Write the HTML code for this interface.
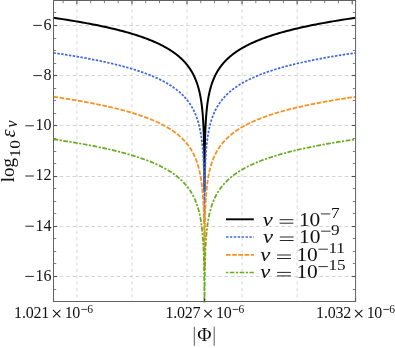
<!DOCTYPE html>
<html><head><meta charset="utf-8"><title>plot</title>
<style>
html,body{margin:0;padding:0;background:#ffffff;}
body{width:395px;height:348px;overflow:hidden;font-family:"Liberation Serif",serif;}
svg{display:block;position:absolute;left:0;top:0;will-change:transform;}
svg text{font-family:"Liberation Serif",serif;}
</style></head><body>
<svg width="395" height="348" viewBox="0 0 395 348">
<rect width="395" height="348" fill="#ffffff"/>
<g stroke="#d6d6d6" stroke-width="1" stroke-dasharray="3.2 3.13" stroke-dashoffset="-2" fill="none"><line x1="76.90" y1="1" x2="76.90" y2="301"/><line x1="131.96" y1="1" x2="131.96" y2="301"/><line x1="187.02" y1="1" x2="187.02" y2="301"/><line x1="242.08" y1="1" x2="242.08" y2="301"/><line x1="297.14" y1="1" x2="297.14" y2="301"/></g>
<g stroke="#d2d2d2" stroke-width="1" stroke-dasharray="3.5 2.83" fill="none"><line x1="53.5" y1="25.5" x2="355" y2="25.5"/><line x1="53.5" y1="75.5" x2="355" y2="75.5"/><line x1="53.5" y1="125.5" x2="355" y2="125.5"/><line x1="53.5" y1="176.5" x2="355" y2="176.5"/><line x1="53.5" y1="226.5" x2="355" y2="226.5"/><line x1="53.5" y1="276.5" x2="355" y2="276.5"/></g>
<g stroke="#707070" stroke-width="0.9" fill="none"><line x1="53.5" y1="12.50" x2="56.2" y2="12.50"/><line x1="355.5" y1="12.50" x2="352.8" y2="12.50"/><line x1="53.5" y1="38.50" x2="56.2" y2="38.50"/><line x1="355.5" y1="38.50" x2="352.8" y2="38.50"/><line x1="53.5" y1="50.50" x2="56.2" y2="50.50"/><line x1="355.5" y1="50.50" x2="352.8" y2="50.50"/><line x1="53.5" y1="63.50" x2="56.2" y2="63.50"/><line x1="355.5" y1="63.50" x2="352.8" y2="63.50"/><line x1="53.5" y1="88.50" x2="56.2" y2="88.50"/><line x1="355.5" y1="88.50" x2="352.8" y2="88.50"/><line x1="53.5" y1="100.50" x2="56.2" y2="100.50"/><line x1="355.5" y1="100.50" x2="352.8" y2="100.50"/><line x1="53.5" y1="113.50" x2="56.2" y2="113.50"/><line x1="355.5" y1="113.50" x2="352.8" y2="113.50"/><line x1="53.5" y1="138.50" x2="56.2" y2="138.50"/><line x1="355.5" y1="138.50" x2="352.8" y2="138.50"/><line x1="53.5" y1="151.50" x2="56.2" y2="151.50"/><line x1="355.5" y1="151.50" x2="352.8" y2="151.50"/><line x1="53.5" y1="163.50" x2="56.2" y2="163.50"/><line x1="355.5" y1="163.50" x2="352.8" y2="163.50"/><line x1="53.5" y1="188.50" x2="56.2" y2="188.50"/><line x1="355.5" y1="188.50" x2="352.8" y2="188.50"/><line x1="53.5" y1="201.50" x2="56.2" y2="201.50"/><line x1="355.5" y1="201.50" x2="352.8" y2="201.50"/><line x1="53.5" y1="213.50" x2="56.2" y2="213.50"/><line x1="355.5" y1="213.50" x2="352.8" y2="213.50"/><line x1="53.5" y1="238.50" x2="56.2" y2="238.50"/><line x1="355.5" y1="238.50" x2="352.8" y2="238.50"/><line x1="53.5" y1="251.50" x2="56.2" y2="251.50"/><line x1="355.5" y1="251.50" x2="352.8" y2="251.50"/><line x1="53.5" y1="263.50" x2="56.2" y2="263.50"/><line x1="355.5" y1="263.50" x2="352.8" y2="263.50"/><line x1="53.5" y1="289.50" x2="56.2" y2="289.50"/><line x1="355.5" y1="289.50" x2="352.8" y2="289.50"/><line x1="63.14" y1="0.5" x2="63.14" y2="3.2"/><line x1="90.67" y1="0.5" x2="90.67" y2="3.2"/><line x1="104.43" y1="0.5" x2="104.43" y2="3.2"/><line x1="118.20" y1="0.5" x2="118.20" y2="3.2"/><line x1="145.73" y1="0.5" x2="145.73" y2="3.2"/><line x1="159.49" y1="0.5" x2="159.49" y2="3.2"/><line x1="173.25" y1="0.5" x2="173.25" y2="3.2"/><line x1="200.79" y1="0.5" x2="200.79" y2="3.2"/><line x1="214.55" y1="0.5" x2="214.55" y2="3.2"/><line x1="228.32" y1="0.5" x2="228.32" y2="3.2"/><line x1="255.84" y1="0.5" x2="255.84" y2="3.2"/><line x1="269.61" y1="0.5" x2="269.61" y2="3.2"/><line x1="283.38" y1="0.5" x2="283.38" y2="3.2"/><line x1="310.90" y1="0.5" x2="310.90" y2="3.2"/><line x1="324.67" y1="0.5" x2="324.67" y2="3.2"/><line x1="338.44" y1="0.5" x2="338.44" y2="3.2"/></g>
<g stroke="#505050" stroke-width="1.1" fill="none"><line x1="53.5" y1="25.50" x2="57.2" y2="25.50"/><line x1="355.5" y1="25.50" x2="351.8" y2="25.50"/><line x1="53.5" y1="75.50" x2="57.2" y2="75.50"/><line x1="355.5" y1="75.50" x2="351.8" y2="75.50"/><line x1="53.5" y1="125.50" x2="57.2" y2="125.50"/><line x1="355.5" y1="125.50" x2="351.8" y2="125.50"/><line x1="53.5" y1="176.50" x2="57.2" y2="176.50"/><line x1="355.5" y1="176.50" x2="351.8" y2="176.50"/><line x1="53.5" y1="226.50" x2="57.2" y2="226.50"/><line x1="355.5" y1="226.50" x2="351.8" y2="226.50"/><line x1="53.5" y1="276.50" x2="57.2" y2="276.50"/><line x1="355.5" y1="276.50" x2="351.8" y2="276.50"/><line x1="76.90" y1="0.5" x2="76.90" y2="4.2"/><line x1="131.96" y1="0.5" x2="131.96" y2="4.2"/><line x1="187.02" y1="0.5" x2="187.02" y2="4.2"/><line x1="242.08" y1="0.5" x2="242.08" y2="4.2"/><line x1="297.14" y1="0.5" x2="297.14" y2="4.2"/><line x1="352.20" y1="0.5" x2="352.20" y2="4.2"/></g>
<defs><clipPath id="c"><rect x="53.5" y="0" width="302" height="302.6"/></clipPath></defs>
<g clip-path="url(#c)" fill="none" stroke-linejoin="round">
<path d="M53.50,17.80 L58.03,18.46 L62.42,19.13 L66.69,19.79 L70.82,20.46 L74.83,21.12 L78.72,21.78 L82.49,22.45 L86.15,23.11 L89.71,23.78 L93.15,24.44 L96.49,25.10 L99.73,25.77 L102.87,26.43 L105.92,27.10 L108.88,27.76 L111.75,28.42 L114.53,29.09 L117.23,29.75 L119.85,30.42 L122.39,31.08 L124.85,31.75 L127.24,32.41 L129.56,33.07 L131.81,33.74 L133.99,34.40 L136.10,35.07 L138.15,35.73 L140.14,36.39 L142.08,37.06 L143.95,37.72 L145.76,38.39 L147.53,39.05 L149.24,39.71 L150.89,40.38 L152.50,41.04 L154.06,41.71 L155.57,42.37 L157.04,43.03 L158.47,43.70 L159.85,44.36 L161.19,45.03 L162.49,45.69 L163.75,46.35 L164.97,47.02 L166.16,47.68 L167.31,48.35 L168.42,49.01 L169.50,49.67 L170.55,50.34 L171.57,51.00 L172.56,51.67 L173.52,52.33 L174.45,53.00 L175.35,53.66 L176.22,54.32 L177.07,54.99 L177.89,55.65 L178.69,56.32 L179.47,56.98 L180.22,57.64 L180.95,58.31 L181.65,58.97 L182.34,59.64 L183.00,60.30 L183.65,60.96 L184.27,61.63 L184.88,62.29 L185.47,62.96 L186.04,63.62 L186.59,64.28 L187.13,64.95 L187.65,65.61 L188.16,66.28 L188.65,66.94 L189.12,67.60 L189.58,68.27 L190.03,68.93 L190.47,69.60 L190.89,70.26 L191.30,70.92 L191.69,71.59 L192.08,72.25 L192.45,72.92 L192.81,73.58 L193.16,74.25 L193.50,74.91 L193.83,75.57 L194.15,76.24 L194.46,76.90 L194.76,77.57 L195.05,78.23 L195.34,78.89 L195.61,79.56 L195.88,80.22 L196.14,80.89 L196.39,81.55 L196.63,82.21 L196.87,82.88 L197.10,83.54 L197.32,84.21 L197.53,84.87 L197.74,85.53 L197.95,86.20 L198.14,86.86 L198.33,87.53 L198.52,88.19 L198.70,88.85 L198.87,89.52 L199.04,90.18 L199.20,90.85 L199.36,91.51 L199.52,92.17 L199.67,92.84 L199.81,93.50 L199.95,94.17 L200.09,94.83 L200.22,95.49 L200.35,96.16 L200.47,96.82 L200.60,97.49 L200.71,98.15 L200.83,98.82 L200.94,99.48 L201.04,100.14 L201.15,100.81 L201.25,101.47 L201.35,102.14 L201.44,102.80 L201.53,103.46 L201.62,104.13 L201.71,104.79 L201.79,105.46 L201.87,106.12 L201.95,106.78 L202.03,107.45 L202.10,108.11 L202.17,108.78 L202.24,109.44 L202.31,110.10 L202.38,110.77 L202.44,111.43 L202.50,112.10 L202.56,112.76 L202.62,113.42 L202.68,114.09 L202.73,114.75 L202.78,115.42 L202.84,116.08 L202.89,116.74 L202.93,117.41 L202.98,118.07 L203.03,118.74 L203.07,119.40 L203.11,120.07 L203.16,120.73 L203.20,121.39 L203.23,122.06 L203.27,122.72 L203.31,123.39 L203.35,124.05 L203.38,124.71 L203.41,125.38 L203.45,126.04 L203.48,126.71 L203.51,127.37 L203.54,128.03 L203.57,128.70 L203.60,129.36 L203.62,130.03 L203.65,130.69 L203.67,131.35 L203.70,132.02 L203.72,132.68 L203.75,133.35 L203.77,134.01 L203.79,134.67 L203.81,135.34 L203.83,136.00 L203.85,136.67 L203.87,137.33 L203.89,137.99 L203.91,138.66 L203.93,139.32 L203.94,139.99 L203.96,140.65 L203.98,141.31 L203.99,141.98 L204.01,142.64 L204.02,143.31 L204.04,143.97 L204.05,144.64 L204.06,145.30 L204.08,145.96 L204.09,146.63 L204.10,147.29 L204.11,147.96 L204.13,148.62 L204.14,149.28 L204.15,149.95 L204.16,150.61 L204.17,151.28 L204.18,151.94 L204.19,152.60 L204.20,153.27 L204.21,153.93 L204.22,154.60 L204.22,155.26 L204.23,155.92 L204.24,156.59 L204.25,157.25 L204.26,157.92 L204.26,158.58 L204.27,159.24 L204.28,159.91 L204.28,160.57 L204.29,161.24 L204.30,161.90 L204.30,162.56 L204.31,163.23 L204.31,163.89 L204.32,164.56 L204.33,165.22 L204.33,165.89 L204.34,166.55 L204.34,167.21 L204.35,167.88 L204.35,168.54 L204.35,169.21 L204.36,169.87 L204.36,170.53 L204.37,171.20 L204.37,171.86 L204.38,172.53 L204.38,173.19 L204.38,173.85 L204.39,174.52 L204.39,175.18 L204.39,175.85 L204.40,176.51 L204.40,177.17 L204.40,177.84 L204.40,178.50 L204.41,179.17 L204.41,179.83 L204.41,180.49 L204.42,181.16 L204.42,181.82 L204.42,182.49 L204.42,183.15 L204.43,183.81 L204.43,184.48 L204.43,185.14 L204.43,185.81 L204.43,186.47 L204.44,187.14 L204.44,187.80 L204.44,188.46 L204.44,189.13 L204.44,189.79 L204.45,190.46 L204.45,191.00 L204.55,191.00 L204.55,190.46 L204.56,189.79 L204.56,189.13 L204.56,188.46 L204.56,187.80 L204.56,187.14 L204.57,186.47 L204.57,185.81 L204.57,185.14 L204.57,184.48 L204.57,183.81 L204.58,183.15 L204.58,182.49 L204.58,181.82 L204.58,181.16 L204.59,180.49 L204.59,179.83 L204.59,179.17 L204.60,178.50 L204.60,177.84 L204.60,177.17 L204.60,176.51 L204.61,175.85 L204.61,175.18 L204.61,174.52 L204.62,173.85 L204.62,173.19 L204.62,172.53 L204.63,171.86 L204.63,171.20 L204.64,170.53 L204.64,169.87 L204.65,169.21 L204.65,168.54 L204.65,167.88 L204.66,167.21 L204.66,166.55 L204.67,165.89 L204.67,165.22 L204.68,164.56 L204.69,163.89 L204.69,163.23 L204.70,162.56 L204.70,161.90 L204.71,161.24 L204.72,160.57 L204.72,159.91 L204.73,159.24 L204.74,158.58 L204.74,157.92 L204.75,157.25 L204.76,156.59 L204.77,155.92 L204.78,155.26 L204.78,154.60 L204.79,153.93 L204.80,153.27 L204.81,152.60 L204.82,151.94 L204.83,151.28 L204.84,150.61 L204.85,149.95 L204.86,149.28 L204.87,148.62 L204.89,147.96 L204.90,147.29 L204.91,146.63 L204.92,145.96 L204.94,145.30 L204.95,144.64 L204.96,143.97 L204.98,143.31 L204.99,142.64 L205.01,141.98 L205.02,141.31 L205.04,140.65 L205.06,139.99 L205.07,139.32 L205.09,138.66 L205.11,137.99 L205.13,137.33 L205.15,136.67 L205.17,136.00 L205.19,135.34 L205.21,134.67 L205.23,134.01 L205.25,133.35 L205.28,132.68 L205.30,132.02 L205.33,131.35 L205.35,130.69 L205.38,130.03 L205.40,129.36 L205.43,128.70 L205.46,128.03 L205.49,127.37 L205.52,126.71 L205.55,126.04 L205.59,125.38 L205.62,124.71 L205.65,124.05 L205.69,123.39 L205.73,122.72 L205.77,122.06 L205.80,121.39 L205.84,120.73 L205.89,120.07 L205.93,119.40 L205.97,118.74 L206.02,118.07 L206.07,117.41 L206.11,116.74 L206.16,116.08 L206.22,115.42 L206.27,114.75 L206.32,114.09 L206.38,113.42 L206.44,112.76 L206.50,112.10 L206.56,111.43 L206.62,110.77 L206.69,110.10 L206.76,109.44 L206.83,108.78 L206.90,108.11 L206.97,107.45 L207.05,106.78 L207.13,106.12 L207.21,105.46 L207.29,104.79 L207.38,104.13 L207.47,103.46 L207.56,102.80 L207.65,102.14 L207.75,101.47 L207.85,100.81 L207.96,100.14 L208.06,99.48 L208.17,98.82 L208.29,98.15 L208.40,97.49 L208.53,96.82 L208.65,96.16 L208.78,95.49 L208.91,94.83 L209.05,94.17 L209.19,93.50 L209.33,92.84 L209.48,92.17 L209.64,91.51 L209.80,90.85 L209.96,90.18 L210.13,89.52 L210.30,88.85 L210.48,88.19 L210.67,87.53 L210.86,86.86 L211.05,86.20 L211.26,85.53 L211.47,84.87 L211.68,84.21 L211.90,83.54 L212.13,82.88 L212.37,82.21 L212.61,81.55 L212.86,80.89 L213.12,80.22 L213.39,79.56 L213.66,78.89 L213.95,78.23 L214.24,77.57 L214.54,76.90 L214.85,76.24 L215.17,75.57 L215.50,74.91 L215.84,74.25 L216.19,73.58 L216.55,72.92 L216.92,72.25 L217.31,71.59 L217.70,70.92 L218.11,70.26 L218.53,69.60 L218.97,68.93 L219.42,68.27 L219.88,67.60 L220.35,66.94 L220.84,66.28 L221.35,65.61 L221.87,64.95 L222.41,64.28 L222.96,63.62 L223.53,62.96 L224.12,62.29 L224.73,61.63 L225.35,60.96 L226.00,60.30 L226.66,59.64 L227.35,58.97 L228.05,58.31 L228.78,57.64 L229.53,56.98 L230.31,56.32 L231.11,55.65 L231.93,54.99 L232.78,54.32 L233.65,53.66 L234.55,53.00 L235.48,52.33 L236.44,51.67 L237.43,51.00 L238.45,50.34 L239.50,49.67 L240.58,49.01 L241.69,48.35 L242.84,47.68 L244.03,47.02 L245.25,46.35 L246.51,45.69 L247.81,45.03 L249.15,44.36 L250.53,43.70 L251.96,43.03 L253.43,42.37 L254.94,41.71 L256.50,41.04 L258.11,40.38 L259.76,39.71 L261.47,39.05 L263.24,38.39 L265.05,37.72 L266.92,37.06 L268.86,36.39 L270.85,35.73 L272.90,35.07 L275.01,34.40 L277.19,33.74 L279.44,33.07 L281.76,32.41 L284.15,31.75 L286.61,31.08 L289.15,30.42 L291.77,29.75 L294.47,29.09 L297.25,28.42 L300.12,27.76 L303.08,27.10 L306.13,26.43 L309.27,25.77 L312.51,25.10 L315.85,24.44 L319.29,23.78 L322.85,23.11 L326.51,22.45 L330.28,21.78 L334.17,21.12 L338.18,20.46 L342.31,19.79 L346.58,19.13 L350.97,18.46 L355.50,17.80 L355.50,17.80" stroke="#000000" stroke-width="2.0"/>
<path d="M53.50,52.90 L58.03,53.56 L62.42,54.23 L66.69,54.89 L70.82,55.56 L74.83,56.22 L78.72,56.88 L82.49,57.55 L86.15,58.21 L89.71,58.88 L93.15,59.54 L96.49,60.20 L99.73,60.87 L102.87,61.53 L105.92,62.20 L108.88,62.86 L111.75,63.52 L114.53,64.19 L117.23,64.85 L119.85,65.52 L122.39,66.18 L124.85,66.85 L127.24,67.51 L129.56,68.17 L131.81,68.84 L133.99,69.50 L136.10,70.17 L138.15,70.83 L140.14,71.49 L142.08,72.16 L143.95,72.82 L145.76,73.49 L147.53,74.15 L149.24,74.81 L150.89,75.48 L152.50,76.14 L154.06,76.81 L155.57,77.47 L157.04,78.13 L158.47,78.80 L159.85,79.46 L161.19,80.13 L162.49,80.79 L163.75,81.45 L164.97,82.12 L166.16,82.78 L167.31,83.45 L168.42,84.11 L169.50,84.77 L170.55,85.44 L171.57,86.10 L172.56,86.77 L173.52,87.43 L174.45,88.10 L175.35,88.76 L176.22,89.42 L177.07,90.09 L177.89,90.75 L178.69,91.42 L179.47,92.08 L180.22,92.74 L180.95,93.41 L181.65,94.07 L182.34,94.74 L183.00,95.40 L183.65,96.06 L184.27,96.73 L184.88,97.39 L185.47,98.06 L186.04,98.72 L186.59,99.38 L187.13,100.05 L187.65,100.71 L188.16,101.38 L188.65,102.04 L189.12,102.70 L189.58,103.37 L190.03,104.03 L190.47,104.70 L190.89,105.36 L191.30,106.02 L191.69,106.69 L192.08,107.35 L192.45,108.02 L192.81,108.68 L193.16,109.35 L193.50,110.01 L193.83,110.67 L194.15,111.34 L194.46,112.00 L194.76,112.67 L195.05,113.33 L195.34,113.99 L195.61,114.66 L195.88,115.32 L196.14,115.99 L196.39,116.65 L196.63,117.31 L196.87,117.98 L197.10,118.64 L197.32,119.31 L197.53,119.97 L197.74,120.63 L197.95,121.30 L198.14,121.96 L198.33,122.63 L198.52,123.29 L198.70,123.95 L198.87,124.62 L199.04,125.28 L199.20,125.95 L199.36,126.61 L199.52,127.27 L199.67,127.94 L199.81,128.60 L199.95,129.27 L200.09,129.93 L200.22,130.59 L200.35,131.26 L200.47,131.92 L200.60,132.59 L200.71,133.25 L200.83,133.92 L200.94,134.58 L201.04,135.24 L201.15,135.91 L201.25,136.57 L201.35,137.24 L201.44,137.90 L201.53,138.56 L201.62,139.23 L201.71,139.89 L201.79,140.56 L201.87,141.22 L201.95,141.88 L202.03,142.55 L202.10,143.21 L202.17,143.88 L202.24,144.54 L202.31,145.20 L202.38,145.87 L202.44,146.53 L202.50,147.20 L202.56,147.86 L202.62,148.52 L202.68,149.19 L202.73,149.85 L202.78,150.52 L202.84,151.18 L202.89,151.84 L202.93,152.51 L202.98,153.17 L203.03,153.84 L203.07,154.50 L203.11,155.17 L203.16,155.83 L203.20,156.49 L203.23,157.16 L203.27,157.82 L203.31,158.49 L203.35,159.15 L203.38,159.81 L203.41,160.48 L203.45,161.14 L203.48,161.81 L203.51,162.47 L203.54,163.13 L203.57,163.80 L203.60,164.46 L203.62,165.13 L203.65,165.79 L203.67,166.45 L203.70,167.12 L203.72,167.78 L203.75,168.45 L203.77,169.11 L203.79,169.77 L203.81,170.44 L203.83,171.10 L203.85,171.77 L203.87,172.43 L203.89,173.09 L203.91,173.76 L203.93,174.42 L203.94,175.09 L203.96,175.75 L203.98,176.41 L203.99,177.08 L204.01,177.74 L204.02,178.41 L204.04,179.07 L204.05,179.74 L204.06,180.40 L204.08,181.06 L204.09,181.73 L204.10,182.39 L204.11,183.06 L204.13,183.72 L204.14,184.38 L204.15,185.05 L204.16,185.71 L204.17,186.38 L204.18,187.04 L204.19,187.70 L204.20,188.37 L204.21,189.03 L204.22,189.70 L204.22,190.36 L204.23,191.02 L204.24,191.69 L204.25,192.35 L204.26,193.02 L204.26,193.68 L204.27,194.34 L204.28,195.01 L204.28,195.67 L204.29,196.34 L204.30,197.00 L204.30,197.66 L204.31,198.33 L204.31,198.99 L204.32,199.66 L204.33,200.32 L204.33,200.99 L204.34,201.65 L204.34,202.31 L204.35,202.98 L204.35,203.64 L204.35,204.31 L204.36,204.97 L204.36,205.63 L204.37,206.30 L204.37,206.96 L204.38,207.63 L204.38,208.29 L204.38,208.95 L204.39,209.62 L204.39,210.28 L204.39,210.95 L204.40,211.61 L204.40,212.27 L204.40,212.94 L204.40,213.60 L204.41,214.27 L204.41,214.93 L204.41,215.59 L204.42,216.26 L204.42,216.92 L204.42,217.59 L204.42,218.25 L204.43,218.91 L204.43,219.58 L204.43,220.24 L204.43,220.91 L204.43,221.57 L204.44,222.00 L204.56,222.00 L204.57,221.57 L204.57,220.91 L204.57,220.24 L204.57,219.58 L204.57,218.91 L204.58,218.25 L204.58,217.59 L204.58,216.92 L204.58,216.26 L204.59,215.59 L204.59,214.93 L204.59,214.27 L204.60,213.60 L204.60,212.94 L204.60,212.27 L204.60,211.61 L204.61,210.95 L204.61,210.28 L204.61,209.62 L204.62,208.95 L204.62,208.29 L204.62,207.63 L204.63,206.96 L204.63,206.30 L204.64,205.63 L204.64,204.97 L204.65,204.31 L204.65,203.64 L204.65,202.98 L204.66,202.31 L204.66,201.65 L204.67,200.99 L204.67,200.32 L204.68,199.66 L204.69,198.99 L204.69,198.33 L204.70,197.66 L204.70,197.00 L204.71,196.34 L204.72,195.67 L204.72,195.01 L204.73,194.34 L204.74,193.68 L204.74,193.02 L204.75,192.35 L204.76,191.69 L204.77,191.02 L204.78,190.36 L204.78,189.70 L204.79,189.03 L204.80,188.37 L204.81,187.70 L204.82,187.04 L204.83,186.38 L204.84,185.71 L204.85,185.05 L204.86,184.38 L204.87,183.72 L204.89,183.06 L204.90,182.39 L204.91,181.73 L204.92,181.06 L204.94,180.40 L204.95,179.74 L204.96,179.07 L204.98,178.41 L204.99,177.74 L205.01,177.08 L205.02,176.41 L205.04,175.75 L205.06,175.09 L205.07,174.42 L205.09,173.76 L205.11,173.09 L205.13,172.43 L205.15,171.77 L205.17,171.10 L205.19,170.44 L205.21,169.77 L205.23,169.11 L205.25,168.45 L205.28,167.78 L205.30,167.12 L205.33,166.45 L205.35,165.79 L205.38,165.13 L205.40,164.46 L205.43,163.80 L205.46,163.13 L205.49,162.47 L205.52,161.81 L205.55,161.14 L205.59,160.48 L205.62,159.81 L205.65,159.15 L205.69,158.49 L205.73,157.82 L205.77,157.16 L205.80,156.49 L205.84,155.83 L205.89,155.17 L205.93,154.50 L205.97,153.84 L206.02,153.17 L206.07,152.51 L206.11,151.84 L206.16,151.18 L206.22,150.52 L206.27,149.85 L206.32,149.19 L206.38,148.52 L206.44,147.86 L206.50,147.20 L206.56,146.53 L206.62,145.87 L206.69,145.20 L206.76,144.54 L206.83,143.88 L206.90,143.21 L206.97,142.55 L207.05,141.88 L207.13,141.22 L207.21,140.56 L207.29,139.89 L207.38,139.23 L207.47,138.56 L207.56,137.90 L207.65,137.24 L207.75,136.57 L207.85,135.91 L207.96,135.24 L208.06,134.58 L208.17,133.92 L208.29,133.25 L208.40,132.59 L208.53,131.92 L208.65,131.26 L208.78,130.59 L208.91,129.93 L209.05,129.27 L209.19,128.60 L209.33,127.94 L209.48,127.27 L209.64,126.61 L209.80,125.95 L209.96,125.28 L210.13,124.62 L210.30,123.95 L210.48,123.29 L210.67,122.63 L210.86,121.96 L211.05,121.30 L211.26,120.63 L211.47,119.97 L211.68,119.31 L211.90,118.64 L212.13,117.98 L212.37,117.31 L212.61,116.65 L212.86,115.99 L213.12,115.32 L213.39,114.66 L213.66,113.99 L213.95,113.33 L214.24,112.67 L214.54,112.00 L214.85,111.34 L215.17,110.67 L215.50,110.01 L215.84,109.35 L216.19,108.68 L216.55,108.02 L216.92,107.35 L217.31,106.69 L217.70,106.02 L218.11,105.36 L218.53,104.70 L218.97,104.03 L219.42,103.37 L219.88,102.70 L220.35,102.04 L220.84,101.38 L221.35,100.71 L221.87,100.05 L222.41,99.38 L222.96,98.72 L223.53,98.06 L224.12,97.39 L224.73,96.73 L225.35,96.06 L226.00,95.40 L226.66,94.74 L227.35,94.07 L228.05,93.41 L228.78,92.74 L229.53,92.08 L230.31,91.42 L231.11,90.75 L231.93,90.09 L232.78,89.42 L233.65,88.76 L234.55,88.10 L235.48,87.43 L236.44,86.77 L237.43,86.10 L238.45,85.44 L239.50,84.77 L240.58,84.11 L241.69,83.45 L242.84,82.78 L244.03,82.12 L245.25,81.45 L246.51,80.79 L247.81,80.13 L249.15,79.46 L250.53,78.80 L251.96,78.13 L253.43,77.47 L254.94,76.81 L256.50,76.14 L258.11,75.48 L259.76,74.81 L261.47,74.15 L263.24,73.49 L265.05,72.82 L266.92,72.16 L268.86,71.49 L270.85,70.83 L272.90,70.17 L275.01,69.50 L277.19,68.84 L279.44,68.17 L281.76,67.51 L284.15,66.85 L286.61,66.18 L289.15,65.52 L291.77,64.85 L294.47,64.19 L297.25,63.52 L300.12,62.86 L303.08,62.20 L306.13,61.53 L309.27,60.87 L312.51,60.20 L315.85,59.54 L319.29,58.88 L322.85,58.21 L326.51,57.55 L330.28,56.88 L334.17,56.22 L338.18,55.56 L342.31,54.89 L346.58,54.23 L350.97,53.56 L355.50,52.90 L355.50,52.90" stroke="#3e68e0" stroke-width="1.75" stroke-dasharray="2.4 1.5"/>
<path d="M53.50,96.80 L58.03,97.46 L62.42,98.13 L66.69,98.79 L70.82,99.46 L74.83,100.12 L78.72,100.78 L82.49,101.45 L86.15,102.11 L89.71,102.78 L93.15,103.44 L96.49,104.10 L99.73,104.77 L102.87,105.43 L105.92,106.10 L108.88,106.76 L111.75,107.42 L114.53,108.09 L117.23,108.75 L119.85,109.42 L122.39,110.08 L124.85,110.75 L127.24,111.41 L129.56,112.07 L131.81,112.74 L133.99,113.40 L136.10,114.07 L138.15,114.73 L140.14,115.39 L142.08,116.06 L143.95,116.72 L145.76,117.39 L147.53,118.05 L149.24,118.71 L150.89,119.38 L152.50,120.04 L154.06,120.71 L155.57,121.37 L157.04,122.03 L158.47,122.70 L159.85,123.36 L161.19,124.03 L162.49,124.69 L163.75,125.35 L164.97,126.02 L166.16,126.68 L167.31,127.35 L168.42,128.01 L169.50,128.67 L170.55,129.34 L171.57,130.00 L172.56,130.67 L173.52,131.33 L174.45,132.00 L175.35,132.66 L176.22,133.32 L177.07,133.99 L177.89,134.65 L178.69,135.32 L179.47,135.98 L180.22,136.64 L180.95,137.31 L181.65,137.97 L182.34,138.64 L183.00,139.30 L183.65,139.96 L184.27,140.63 L184.88,141.29 L185.47,141.96 L186.04,142.62 L186.59,143.28 L187.13,143.95 L187.65,144.61 L188.16,145.28 L188.65,145.94 L189.12,146.60 L189.58,147.27 L190.03,147.93 L190.47,148.60 L190.89,149.26 L191.30,149.92 L191.69,150.59 L192.08,151.25 L192.45,151.92 L192.81,152.58 L193.16,153.25 L193.50,153.91 L193.83,154.57 L194.15,155.24 L194.46,155.90 L194.76,156.57 L195.05,157.23 L195.34,157.89 L195.61,158.56 L195.88,159.22 L196.14,159.89 L196.39,160.55 L196.63,161.21 L196.87,161.88 L197.10,162.54 L197.32,163.21 L197.53,163.87 L197.74,164.53 L197.95,165.20 L198.14,165.86 L198.33,166.53 L198.52,167.19 L198.70,167.85 L198.87,168.52 L199.04,169.18 L199.20,169.85 L199.36,170.51 L199.52,171.17 L199.67,171.84 L199.81,172.50 L199.95,173.17 L200.09,173.83 L200.22,174.49 L200.35,175.16 L200.47,175.82 L200.60,176.49 L200.71,177.15 L200.83,177.82 L200.94,178.48 L201.04,179.14 L201.15,179.81 L201.25,180.47 L201.35,181.14 L201.44,181.80 L201.53,182.46 L201.62,183.13 L201.71,183.79 L201.79,184.46 L201.87,185.12 L201.95,185.78 L202.03,186.45 L202.10,187.11 L202.17,187.78 L202.24,188.44 L202.31,189.10 L202.38,189.77 L202.44,190.43 L202.50,191.10 L202.56,191.76 L202.62,192.42 L202.68,193.09 L202.73,193.75 L202.78,194.42 L202.84,195.08 L202.89,195.74 L202.93,196.41 L202.98,197.07 L203.03,197.74 L203.07,198.40 L203.11,199.07 L203.16,199.73 L203.20,200.39 L203.23,201.06 L203.27,201.72 L203.31,202.39 L203.35,203.05 L203.38,203.71 L203.41,204.38 L203.45,205.04 L203.48,205.71 L203.51,206.37 L203.54,207.03 L203.57,207.70 L203.60,208.36 L203.62,209.03 L203.65,209.69 L203.67,210.35 L203.70,211.02 L203.72,211.68 L203.75,212.35 L203.77,213.01 L203.79,213.67 L203.81,214.34 L203.83,215.00 L203.85,215.67 L203.87,216.33 L203.89,216.99 L203.91,217.66 L203.93,218.32 L203.94,218.99 L203.96,219.65 L203.98,220.31 L203.99,220.98 L204.01,221.64 L204.02,222.31 L204.04,222.97 L204.05,223.64 L204.06,224.30 L204.08,224.96 L204.09,225.63 L204.10,226.29 L204.11,226.96 L204.13,227.62 L204.14,228.28 L204.15,228.95 L204.16,229.61 L204.17,230.28 L204.18,230.94 L204.19,231.60 L204.20,232.27 L204.21,232.93 L204.22,233.60 L204.22,234.26 L204.23,234.92 L204.24,235.59 L204.25,236.25 L204.26,236.92 L204.26,237.58 L204.27,238.24 L204.28,238.91 L204.28,239.57 L204.29,240.24 L204.30,240.90 L204.30,241.56 L204.31,242.23 L204.31,242.89 L204.32,243.56 L204.33,244.22 L204.33,244.89 L204.34,245.55 L204.34,246.21 L204.35,246.88 L204.35,247.54 L204.35,248.21 L204.36,248.87 L204.36,249.53 L204.37,250.20 L204.37,250.86 L204.38,251.53 L204.38,252.19 L204.38,252.85 L204.39,253.52 L204.39,254.18 L204.39,254.85 L204.40,255.51 L204.40,256.17 L204.40,256.84 L204.40,257.50 L204.41,258.17 L204.41,258.83 L204.41,259.49 L204.42,260.16 L204.42,260.82 L204.42,261.49 L204.42,262.15 L204.43,262.81 L204.43,263.48 L204.43,264.14 L204.43,264.81 L204.43,265.47 L204.44,266.14 L204.44,266.80 L204.44,267.46 L204.44,268.13 L204.44,268.79 L204.45,269.46 L204.45,270.00 L204.55,270.00 L204.55,269.46 L204.56,268.79 L204.56,268.13 L204.56,267.46 L204.56,266.80 L204.56,266.14 L204.57,265.47 L204.57,264.81 L204.57,264.14 L204.57,263.48 L204.57,262.81 L204.58,262.15 L204.58,261.49 L204.58,260.82 L204.58,260.16 L204.59,259.49 L204.59,258.83 L204.59,258.17 L204.60,257.50 L204.60,256.84 L204.60,256.17 L204.60,255.51 L204.61,254.85 L204.61,254.18 L204.61,253.52 L204.62,252.85 L204.62,252.19 L204.62,251.53 L204.63,250.86 L204.63,250.20 L204.64,249.53 L204.64,248.87 L204.65,248.21 L204.65,247.54 L204.65,246.88 L204.66,246.21 L204.66,245.55 L204.67,244.89 L204.67,244.22 L204.68,243.56 L204.69,242.89 L204.69,242.23 L204.70,241.56 L204.70,240.90 L204.71,240.24 L204.72,239.57 L204.72,238.91 L204.73,238.24 L204.74,237.58 L204.74,236.92 L204.75,236.25 L204.76,235.59 L204.77,234.92 L204.78,234.26 L204.78,233.60 L204.79,232.93 L204.80,232.27 L204.81,231.60 L204.82,230.94 L204.83,230.28 L204.84,229.61 L204.85,228.95 L204.86,228.28 L204.87,227.62 L204.89,226.96 L204.90,226.29 L204.91,225.63 L204.92,224.96 L204.94,224.30 L204.95,223.64 L204.96,222.97 L204.98,222.31 L204.99,221.64 L205.01,220.98 L205.02,220.31 L205.04,219.65 L205.06,218.99 L205.07,218.32 L205.09,217.66 L205.11,216.99 L205.13,216.33 L205.15,215.67 L205.17,215.00 L205.19,214.34 L205.21,213.67 L205.23,213.01 L205.25,212.35 L205.28,211.68 L205.30,211.02 L205.33,210.35 L205.35,209.69 L205.38,209.03 L205.40,208.36 L205.43,207.70 L205.46,207.03 L205.49,206.37 L205.52,205.71 L205.55,205.04 L205.59,204.38 L205.62,203.71 L205.65,203.05 L205.69,202.39 L205.73,201.72 L205.77,201.06 L205.80,200.39 L205.84,199.73 L205.89,199.07 L205.93,198.40 L205.97,197.74 L206.02,197.07 L206.07,196.41 L206.11,195.74 L206.16,195.08 L206.22,194.42 L206.27,193.75 L206.32,193.09 L206.38,192.42 L206.44,191.76 L206.50,191.10 L206.56,190.43 L206.62,189.77 L206.69,189.10 L206.76,188.44 L206.83,187.78 L206.90,187.11 L206.97,186.45 L207.05,185.78 L207.13,185.12 L207.21,184.46 L207.29,183.79 L207.38,183.13 L207.47,182.46 L207.56,181.80 L207.65,181.14 L207.75,180.47 L207.85,179.81 L207.96,179.14 L208.06,178.48 L208.17,177.82 L208.29,177.15 L208.40,176.49 L208.53,175.82 L208.65,175.16 L208.78,174.49 L208.91,173.83 L209.05,173.17 L209.19,172.50 L209.33,171.84 L209.48,171.17 L209.64,170.51 L209.80,169.85 L209.96,169.18 L210.13,168.52 L210.30,167.85 L210.48,167.19 L210.67,166.53 L210.86,165.86 L211.05,165.20 L211.26,164.53 L211.47,163.87 L211.68,163.21 L211.90,162.54 L212.13,161.88 L212.37,161.21 L212.61,160.55 L212.86,159.89 L213.12,159.22 L213.39,158.56 L213.66,157.89 L213.95,157.23 L214.24,156.57 L214.54,155.90 L214.85,155.24 L215.17,154.57 L215.50,153.91 L215.84,153.25 L216.19,152.58 L216.55,151.92 L216.92,151.25 L217.31,150.59 L217.70,149.92 L218.11,149.26 L218.53,148.60 L218.97,147.93 L219.42,147.27 L219.88,146.60 L220.35,145.94 L220.84,145.28 L221.35,144.61 L221.87,143.95 L222.41,143.28 L222.96,142.62 L223.53,141.96 L224.12,141.29 L224.73,140.63 L225.35,139.96 L226.00,139.30 L226.66,138.64 L227.35,137.97 L228.05,137.31 L228.78,136.64 L229.53,135.98 L230.31,135.32 L231.11,134.65 L231.93,133.99 L232.78,133.32 L233.65,132.66 L234.55,132.00 L235.48,131.33 L236.44,130.67 L237.43,130.00 L238.45,129.34 L239.50,128.67 L240.58,128.01 L241.69,127.35 L242.84,126.68 L244.03,126.02 L245.25,125.35 L246.51,124.69 L247.81,124.03 L249.15,123.36 L250.53,122.70 L251.96,122.03 L253.43,121.37 L254.94,120.71 L256.50,120.04 L258.11,119.38 L259.76,118.71 L261.47,118.05 L263.24,117.39 L265.05,116.72 L266.92,116.06 L268.86,115.39 L270.85,114.73 L272.90,114.07 L275.01,113.40 L277.19,112.74 L279.44,112.07 L281.76,111.41 L284.15,110.75 L286.61,110.08 L289.15,109.42 L291.77,108.75 L294.47,108.09 L297.25,107.42 L300.12,106.76 L303.08,106.10 L306.13,105.43 L309.27,104.77 L312.51,104.10 L315.85,103.44 L319.29,102.78 L322.85,102.11 L326.51,101.45 L330.28,100.78 L334.17,100.12 L338.18,99.46 L342.31,98.79 L346.58,98.13 L350.97,97.46 L355.50,96.80 L355.50,96.80" stroke="#f6921e" stroke-width="1.8" stroke-dasharray="4.6 1.6"/>
<path d="M53.50,139.30 L58.03,139.96 L62.42,140.63 L66.69,141.29 L70.82,141.96 L74.83,142.62 L78.72,143.28 L82.49,143.95 L86.15,144.61 L89.71,145.28 L93.15,145.94 L96.49,146.60 L99.73,147.27 L102.87,147.93 L105.92,148.60 L108.88,149.26 L111.75,149.92 L114.53,150.59 L117.23,151.25 L119.85,151.92 L122.39,152.58 L124.85,153.25 L127.24,153.91 L129.56,154.57 L131.81,155.24 L133.99,155.90 L136.10,156.57 L138.15,157.23 L140.14,157.89 L142.08,158.56 L143.95,159.22 L145.76,159.89 L147.53,160.55 L149.24,161.21 L150.89,161.88 L152.50,162.54 L154.06,163.21 L155.57,163.87 L157.04,164.53 L158.47,165.20 L159.85,165.86 L161.19,166.53 L162.49,167.19 L163.75,167.85 L164.97,168.52 L166.16,169.18 L167.31,169.85 L168.42,170.51 L169.50,171.17 L170.55,171.84 L171.57,172.50 L172.56,173.17 L173.52,173.83 L174.45,174.50 L175.35,175.16 L176.22,175.82 L177.07,176.49 L177.89,177.15 L178.69,177.82 L179.47,178.48 L180.22,179.14 L180.95,179.81 L181.65,180.47 L182.34,181.14 L183.00,181.80 L183.65,182.46 L184.27,183.13 L184.88,183.79 L185.47,184.46 L186.04,185.12 L186.59,185.78 L187.13,186.45 L187.65,187.11 L188.16,187.78 L188.65,188.44 L189.12,189.10 L189.58,189.77 L190.03,190.43 L190.47,191.10 L190.89,191.76 L191.30,192.42 L191.69,193.09 L192.08,193.75 L192.45,194.42 L192.81,195.08 L193.16,195.75 L193.50,196.41 L193.83,197.07 L194.15,197.74 L194.46,198.40 L194.76,199.07 L195.05,199.73 L195.34,200.39 L195.61,201.06 L195.88,201.72 L196.14,202.39 L196.39,203.05 L196.63,203.71 L196.87,204.38 L197.10,205.04 L197.32,205.71 L197.53,206.37 L197.74,207.03 L197.95,207.70 L198.14,208.36 L198.33,209.03 L198.52,209.69 L198.70,210.35 L198.87,211.02 L199.04,211.68 L199.20,212.35 L199.36,213.01 L199.52,213.67 L199.67,214.34 L199.81,215.00 L199.95,215.67 L200.09,216.33 L200.22,216.99 L200.35,217.66 L200.47,218.32 L200.60,218.99 L200.71,219.65 L200.83,220.32 L200.94,220.98 L201.04,221.64 L201.15,222.31 L201.25,222.97 L201.35,223.64 L201.44,224.30 L201.53,224.96 L201.62,225.63 L201.71,226.29 L201.79,226.96 L201.87,227.62 L201.95,228.28 L202.03,228.95 L202.10,229.61 L202.17,230.28 L202.24,230.94 L202.31,231.60 L202.38,232.27 L202.44,232.93 L202.50,233.60 L202.56,234.26 L202.62,234.92 L202.68,235.59 L202.73,236.25 L202.78,236.92 L202.84,237.58 L202.89,238.24 L202.93,238.91 L202.98,239.57 L203.03,240.24 L203.07,240.90 L203.11,241.57 L203.16,242.23 L203.20,242.89 L203.23,243.56 L203.27,244.22 L203.31,244.89 L203.35,245.55 L203.38,246.21 L203.41,246.88 L203.45,247.54 L203.48,248.21 L203.51,248.87 L203.54,249.53 L203.57,250.20 L203.60,250.86 L203.62,251.53 L203.65,252.19 L203.67,252.85 L203.70,253.52 L203.72,254.18 L203.75,254.85 L203.77,255.51 L203.79,256.17 L203.81,256.84 L203.83,257.50 L203.85,258.17 L203.87,258.83 L203.89,259.49 L203.91,260.16 L203.93,260.82 L203.94,261.49 L203.96,262.15 L203.98,262.81 L203.99,263.48 L204.01,264.14 L204.02,264.81 L204.04,265.47 L204.05,266.14 L204.06,266.80 L204.08,267.46 L204.09,268.13 L204.10,268.79 L204.11,269.46 L204.13,270.12 L204.14,270.78 L204.15,271.45 L204.16,272.11 L204.17,272.78 L204.18,273.44 L204.19,274.10 L204.20,274.77 L204.21,275.43 L204.22,276.10 L204.22,276.76 L204.23,277.42 L204.24,278.09 L204.25,278.75 L204.26,279.42 L204.26,280.08 L204.27,280.74 L204.28,281.41 L204.28,282.07 L204.29,282.74 L204.30,283.40 L204.30,284.06 L204.31,284.73 L204.31,285.39 L204.32,286.06 L204.33,286.72 L204.33,287.39 L204.34,288.05 L204.34,288.71 L204.35,289.38 L204.35,290.04 L204.35,290.71 L204.36,291.37 L204.36,292.03 L204.37,292.70 L204.37,293.36 L204.38,294.03 L204.38,294.69 L204.38,295.35 L204.39,296.02 L204.39,296.68 L204.39,297.35 L204.40,298.01 L204.40,298.67 L204.40,299.34 L204.40,300.00 L204.41,300.67 L204.41,301.33 L204.41,301.99 L204.42,302.66 L204.42,303.32 L204.42,303.99 L204.42,304.65 L204.43,305.31 L204.43,305.98 L204.43,306.00 L204.57,306.00 L204.57,305.98 L204.57,305.31 L204.58,304.65 L204.58,303.99 L204.58,303.32 L204.58,302.66 L204.59,301.99 L204.59,301.33 L204.59,300.67 L204.60,300.00 L204.60,299.34 L204.60,298.67 L204.60,298.01 L204.61,297.35 L204.61,296.68 L204.61,296.02 L204.62,295.35 L204.62,294.69 L204.62,294.03 L204.63,293.36 L204.63,292.70 L204.64,292.03 L204.64,291.37 L204.65,290.71 L204.65,290.04 L204.65,289.38 L204.66,288.71 L204.66,288.05 L204.67,287.39 L204.67,286.72 L204.68,286.06 L204.69,285.39 L204.69,284.73 L204.70,284.06 L204.70,283.40 L204.71,282.74 L204.72,282.07 L204.72,281.41 L204.73,280.74 L204.74,280.08 L204.74,279.42 L204.75,278.75 L204.76,278.09 L204.77,277.42 L204.78,276.76 L204.78,276.10 L204.79,275.43 L204.80,274.77 L204.81,274.10 L204.82,273.44 L204.83,272.78 L204.84,272.11 L204.85,271.45 L204.86,270.78 L204.87,270.12 L204.89,269.46 L204.90,268.79 L204.91,268.13 L204.92,267.46 L204.94,266.80 L204.95,266.14 L204.96,265.47 L204.98,264.81 L204.99,264.14 L205.01,263.48 L205.02,262.81 L205.04,262.15 L205.06,261.49 L205.07,260.82 L205.09,260.16 L205.11,259.49 L205.13,258.83 L205.15,258.17 L205.17,257.50 L205.19,256.84 L205.21,256.17 L205.23,255.51 L205.25,254.85 L205.28,254.18 L205.30,253.52 L205.33,252.85 L205.35,252.19 L205.38,251.53 L205.40,250.86 L205.43,250.20 L205.46,249.53 L205.49,248.87 L205.52,248.21 L205.55,247.54 L205.59,246.88 L205.62,246.21 L205.65,245.55 L205.69,244.89 L205.73,244.22 L205.77,243.56 L205.80,242.89 L205.84,242.23 L205.89,241.57 L205.93,240.90 L205.97,240.24 L206.02,239.57 L206.07,238.91 L206.11,238.24 L206.16,237.58 L206.22,236.92 L206.27,236.25 L206.32,235.59 L206.38,234.92 L206.44,234.26 L206.50,233.60 L206.56,232.93 L206.62,232.27 L206.69,231.60 L206.76,230.94 L206.83,230.28 L206.90,229.61 L206.97,228.95 L207.05,228.28 L207.13,227.62 L207.21,226.96 L207.29,226.29 L207.38,225.63 L207.47,224.96 L207.56,224.30 L207.65,223.64 L207.75,222.97 L207.85,222.31 L207.96,221.64 L208.06,220.98 L208.17,220.32 L208.29,219.65 L208.40,218.99 L208.53,218.32 L208.65,217.66 L208.78,216.99 L208.91,216.33 L209.05,215.67 L209.19,215.00 L209.33,214.34 L209.48,213.67 L209.64,213.01 L209.80,212.35 L209.96,211.68 L210.13,211.02 L210.30,210.35 L210.48,209.69 L210.67,209.03 L210.86,208.36 L211.05,207.70 L211.26,207.03 L211.47,206.37 L211.68,205.71 L211.90,205.04 L212.13,204.38 L212.37,203.71 L212.61,203.05 L212.86,202.39 L213.12,201.72 L213.39,201.06 L213.66,200.39 L213.95,199.73 L214.24,199.07 L214.54,198.40 L214.85,197.74 L215.17,197.07 L215.50,196.41 L215.84,195.75 L216.19,195.08 L216.55,194.42 L216.92,193.75 L217.31,193.09 L217.70,192.42 L218.11,191.76 L218.53,191.10 L218.97,190.43 L219.42,189.77 L219.88,189.10 L220.35,188.44 L220.84,187.78 L221.35,187.11 L221.87,186.45 L222.41,185.78 L222.96,185.12 L223.53,184.46 L224.12,183.79 L224.73,183.13 L225.35,182.46 L226.00,181.80 L226.66,181.14 L227.35,180.47 L228.05,179.81 L228.78,179.14 L229.53,178.48 L230.31,177.82 L231.11,177.15 L231.93,176.49 L232.78,175.82 L233.65,175.16 L234.55,174.50 L235.48,173.83 L236.44,173.17 L237.43,172.50 L238.45,171.84 L239.50,171.17 L240.58,170.51 L241.69,169.85 L242.84,169.18 L244.03,168.52 L245.25,167.85 L246.51,167.19 L247.81,166.53 L249.15,165.86 L250.53,165.20 L251.96,164.53 L253.43,163.87 L254.94,163.21 L256.50,162.54 L258.11,161.88 L259.76,161.21 L261.47,160.55 L263.24,159.89 L265.05,159.22 L266.92,158.56 L268.86,157.89 L270.85,157.23 L272.90,156.57 L275.01,155.90 L277.19,155.24 L279.44,154.57 L281.76,153.91 L284.15,153.25 L286.61,152.58 L289.15,151.92 L291.77,151.25 L294.47,150.59 L297.25,149.92 L300.12,149.26 L303.08,148.60 L306.13,147.93 L309.27,147.27 L312.51,146.60 L315.85,145.94 L319.29,145.28 L322.85,144.61 L326.51,143.95 L330.28,143.28 L334.17,142.62 L338.18,141.96 L342.31,141.29 L346.58,140.63 L350.97,139.96 L355.50,139.30 L355.50,139.30" stroke="#69ac22" stroke-width="1.75" stroke-dasharray="4.7 1.5 2.2 1.5"/>
</g>
<path d="M204.5,301.5v-2.8M53.5,301.5v-3.2M355.5,301.5v-3.2" stroke="#333333" stroke-width="1.1" fill="none"/>
<rect x="53.5" y="0.5" width="302.1" height="301" fill="none" stroke="#626262" stroke-width="1"/>
<line x1="226" y1="219.3" x2="253.8" y2="219.3" stroke="#000000" stroke-width="1.9"/>
<line x1="226" y1="237.0" x2="253.8" y2="237.0" stroke="#3e68e0" stroke-width="1.7" stroke-dasharray="2.4 1.5"/>
<line x1="226" y1="254.8" x2="253.8" y2="254.8" stroke="#f6921e" stroke-width="1.7" stroke-dasharray="4.6 1.6"/>
<line x1="226" y1="272.5" x2="253.8" y2="272.5" stroke="#69ac22" stroke-width="1.7" stroke-dasharray="4.7 1.5 2.2 1.5" stroke-dashoffset="6.2"/>
<g font-family="Liberation Serif" fill="#111111"><text transform="translate(262.7,225.5) scale(1.22,1)" font-size="18.5" font-style="italic">&#957;</text><path d="M279.6,219.7h13.8M279.6,223.2h13.8" stroke="#111111" stroke-width="0.9" fill="none"/><text transform="translate(298.9,225.5) scale(1.1,1)" font-size="19.5">10</text><path d="M320.9,213.9h9.5" stroke="#111111" stroke-width="0.85" fill="none"/><text transform="translate(330.9,217.7) scale(1.18,1)" font-size="14.6">7</text><text transform="translate(262.9,242.8) scale(1.22,1)" font-size="18.5" font-style="italic">&#957;</text><path d="M279.8,237.0h13.8M279.8,240.5h13.8" stroke="#111111" stroke-width="0.9" fill="none"/><text transform="translate(299.1,242.8) scale(1.1,1)" font-size="19.5">10</text><path d="M321.1,231.2h9.5" stroke="#111111" stroke-width="0.85" fill="none"/><text transform="translate(331.1,235.0) scale(1.18,1)" font-size="14.6">9</text><text transform="translate(260.2,260.8) scale(1.22,1)" font-size="18.5" font-style="italic">&#957;</text><path d="M277.1,255.0h13.8M277.1,258.5h13.8" stroke="#111111" stroke-width="0.9" fill="none"/><text transform="translate(296.4,260.8) scale(1.1,1)" font-size="19.5">10</text><path d="M318.4,249.2h9.5" stroke="#111111" stroke-width="0.85" fill="none"/><text transform="translate(328.4,253.0) scale(1.18,1)" font-size="14.6">11</text><text transform="translate(260.2,278.2) scale(1.22,1)" font-size="18.5" font-style="italic">&#957;</text><path d="M277.1,272.4h13.8M277.1,275.9h13.8" stroke="#111111" stroke-width="0.9" fill="none"/><text transform="translate(296.4,278.2) scale(1.1,1)" font-size="19.5">10</text><path d="M318.4,266.6h9.5" stroke="#111111" stroke-width="0.85" fill="none"/><text transform="translate(328.4,270.4) scale(1.18,1)" font-size="14.6">15</text></g>
<g font-family="Liberation Serif" fill="#111111"><text x="43.4" y="29.7" font-size="16">6</text><path d="M33.3,25.4h8.6" stroke="#111111" stroke-width="0.9" fill="none"/><text x="43.4" y="79.9" font-size="16">8</text><path d="M33.3,75.6h8.6" stroke="#111111" stroke-width="0.9" fill="none"/><text x="35.4" y="130.1" font-size="16">10</text><path d="M25.3,125.8h8.6" stroke="#111111" stroke-width="0.9" fill="none"/><text x="35.4" y="180.3" font-size="16">12</text><path d="M25.3,176.0h8.6" stroke="#111111" stroke-width="0.9" fill="none"/><text x="35.4" y="230.5" font-size="16">14</text><path d="M25.3,226.2h8.6" stroke="#111111" stroke-width="0.9" fill="none"/><text x="35.4" y="280.7" font-size="16">16</text><path d="M25.3,276.4h8.6" stroke="#111111" stroke-width="0.9" fill="none"/></g>
<g font-family="Liberation Serif" fill="#111111"><text x="14.1" y="317.7" font-size="16" letter-spacing="-0.2">1.021</text><path d="M53.0,309.9l7.4,7.4m0,-7.4l-7.4,7.4" stroke="#111111" stroke-width="1.05" fill="none"/><text x="64.7" y="317.7" font-size="16" letter-spacing="-0.4">10</text><path d="M81.3,309.4h5.7" stroke="#111111" stroke-width="0.8" fill="none"/><text x="87.2" y="312.5" font-size="11.6">6</text><text x="165.4" y="317.7" font-size="16" letter-spacing="-0.2">1.027</text><path d="M204.3,309.9l7.4,7.4m0,-7.4l-7.4,7.4" stroke="#111111" stroke-width="1.05" fill="none"/><text x="216.1" y="317.7" font-size="16" letter-spacing="-0.4">10</text><path d="M232.6,309.4h5.7" stroke="#111111" stroke-width="0.8" fill="none"/><text x="238.6" y="312.5" font-size="11.6">6</text><text x="316.1" y="317.7" font-size="16" letter-spacing="-0.2">1.032</text><path d="M355.0,309.9l7.4,7.4m0,-7.4l-7.4,7.4" stroke="#111111" stroke-width="1.05" fill="none"/><text x="366.7" y="317.7" font-size="16" letter-spacing="-0.4">10</text><path d="M383.3,309.4h5.7" stroke="#111111" stroke-width="0.8" fill="none"/><text x="389.2" y="312.5" font-size="11.6">6</text></g>
<path d="M194.3,326.6v19.2M214.2,326.6v19.2" stroke="#333333" stroke-width="0.8" fill="none"/>
<text x="197.3" y="341.3" font-size="19.5" font-family="Liberation Serif" fill="#111111">&#934;</text>
<g transform="translate(0,182) rotate(-90)" font-family="Liberation Serif" fill="#111111">
<text x="-0.3" y="13.9" font-size="19">log</text>
<text transform="translate(24.6,19.9) scale(1.18,1)" x="0" y="0" font-size="14.8">10</text>
<text x="44.6" y="14.8" font-size="20.5" font-style="italic">&#949;</text>
<text x="54.6" y="17.3" font-size="16" font-style="italic">&#957;</text>
</g>
</svg>
</body></html>
